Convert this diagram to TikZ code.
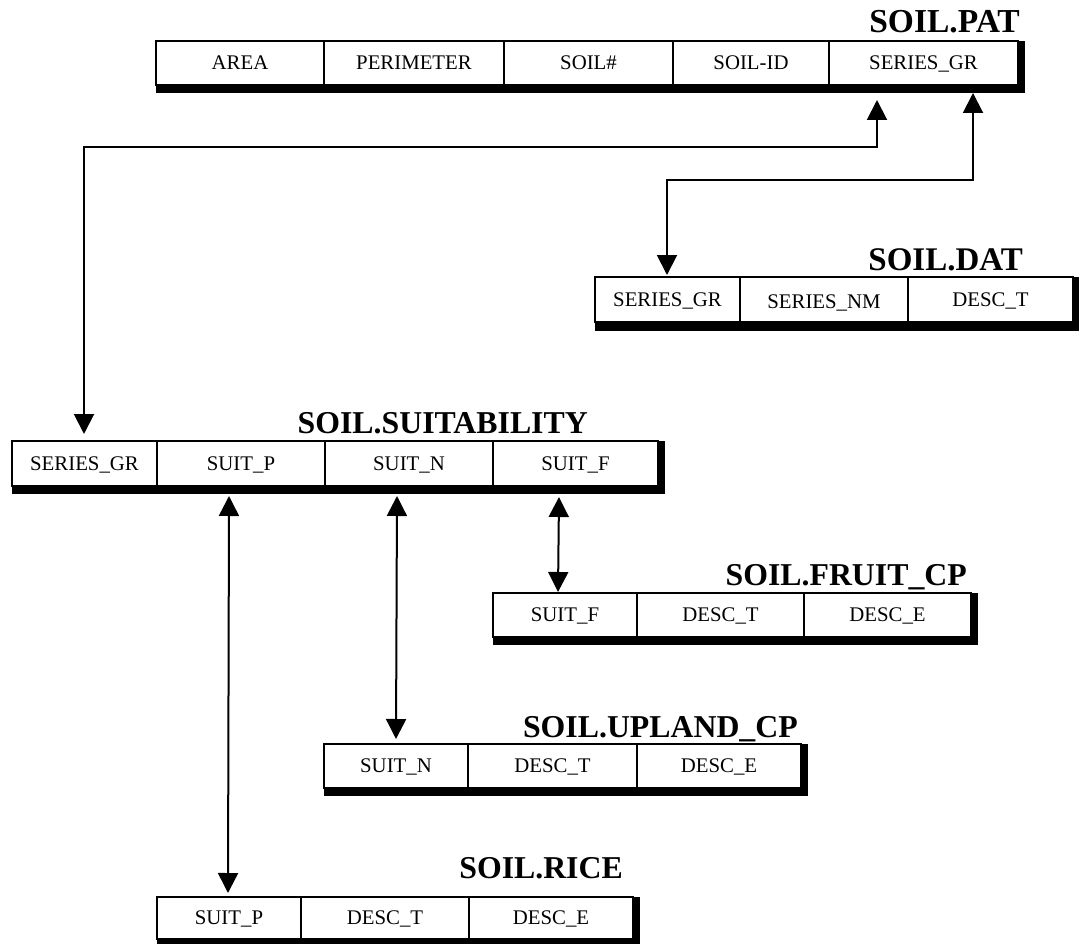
\documentclass[tikz,border=0pt]{standalone}
\usepackage{fontspec}
\setmainfont{Liberation Serif}
\usetikzlibrary{arrows.meta}
\begin{document}
\begin{tikzpicture}[x=1pt,y=-1pt,
  cell/.style={draw=black, fill=white, line width=1.7pt, outer sep=0pt, inner sep=0pt,
    anchor=north west, text height=13.8pt, text depth=0pt,
    font=\fontsize{20.8}{24}\selectfont},
  ttl/.style={anchor=base east, inner sep=0pt, font=\fontsize{31.8}{36}\selectfont\bfseries},
  shad/.style={fill=black},
  link/.style={line width=2pt, {Triangle[length=20pt,width=20pt]}-{Triangle[length=20pt,width=20pt]}}
]
\useasboundingbox (0,0) rectangle (1087,944);

% ---------- SOIL.PAT ----------
\fill[shad] (156,41) rectangle (1025,93);
\node[cell, minimum width=168, minimum height=44] (pat1) at (156,41) {AREA};
\node[cell, minimum width=180, minimum height=44] (pat2) at (324,41) {PERIMETER};
\node[cell, minimum width=169, minimum height=44] (pat3) at (504,41) {SOIL\#};
\node[cell, minimum width=156, minimum height=44] (pat4) at (673,41) {SOIL-ID};
\node[cell, minimum width=189, minimum height=44] (pat5) at (829,41) {SERIES\_GR};
\node[ttl, font=\fontsize{33.5}{38}\selectfont\bfseries] (patT) at (1020,33) {SOIL.PAT};

% ---------- SOIL.DAT ----------
\fill[shad] (595,277) rectangle (1079,331);
\node[cell, minimum width=145, minimum height=45] (dat1) at (595,277) {SERIES\_GR};
\node[cell, minimum width=168, minimum height=45] (dat2) at (740,277) {\raisebox{-2.5pt}{SERIES\_NM}};
\node[cell, minimum width=165, minimum height=45] (dat3) at (908,277) {DESC\_T};
\node[ttl, font=\fontsize{33}{38}\selectfont\bfseries] (datT) at (1023,270) {SOIL.DAT};

% ---------- SOIL.SUITABILITY ----------
\fill[shad] (12,441) rectangle (665,494);
\node[cell, minimum width=145, minimum height=45] (su1) at (12,441) {SERIES\_GR};
\node[cell, minimum width=168, minimum height=45] (su2) at (157,441) {SUIT\_P};
\node[cell, minimum width=168, minimum height=45] (su3) at (325,441) {SUIT\_N};
\node[cell, minimum width=165, minimum height=45] (su4) at (493,441) {SUIT\_F};
\node[ttl] (suT) at (588,433) {SOIL.SUITABILITY};

% ---------- SOIL.FRUIT_CP ----------
\fill[shad] (493,593) rectangle (978,645);
\node[cell, minimum width=144, minimum height=44] (fr1) at (493,593) {SUIT\_F};
\node[cell, minimum width=167, minimum height=44] (fr2) at (637,593) {DESC\_T};
\node[cell, minimum width=167, minimum height=44] (fr3) at (804,593) {DESC\_E};
\node[ttl] (frT) at (967,585) {SOIL.FRUIT\_CP};

% ---------- SOIL.UPLAND_CP ----------
\fill[shad] (324,744) rectangle (808,796);
\node[cell, minimum width=144, minimum height=44] (up1) at (324,744) {SUIT\_N};
\node[cell, minimum width=169, minimum height=44] (up2) at (468,744) {DESC\_T};
\node[cell, minimum width=164, minimum height=44] (up3) at (637,744) {DESC\_E};
\node[ttl] (upT) at (798,737) {SOIL.UPLAND\_CP};

% ---------- SOIL.RICE ----------
\fill[shad] (157,897) rectangle (640,947);
\node[cell, minimum width=144, minimum height=42] (ri1) at (157,897) {SUIT\_P};
\node[cell, minimum width=168, minimum height=42] (ri2) at (301,897) {DESC\_T};
\node[cell, minimum width=164, minimum height=42] (ri3) at (469,897) {DESC\_E};
\node[ttl] (riT) at (623,878) {SOIL.RICE};

% ---------- connector end points ----------
\coordinate (c1a) at (877,100);  % below pat5
\coordinate (c1b) at (84,434);   % above su1
\coordinate (c2a) at (973,93);   % below pat5
\coordinate (c2b) at (667,275);  % above dat1
\coordinate (c3a) at (229,496);  % below su2
\coordinate (c3b) at (228,893);  % above ri1
\coordinate (c4a) at (397,496);  % below su3
\coordinate (c4b) at (396,739);  % above up1
\coordinate (c5a) at (559,497);  % below su4
\coordinate (c5b) at (558,592);  % above fr1

% ---------- connectors ----------
\draw[link] (c1a) -- (877,147) -- (84,147) -- (c1b);
\draw[link] (c2a) -- (973,180) -- (667,180) -- (c2b);
\draw[link] (c3a) -- (c3b);
\draw[link] (c4a) -- (c4b);
\draw[link] (c5a) -- (c5b);
\end{tikzpicture}
\end{document}
